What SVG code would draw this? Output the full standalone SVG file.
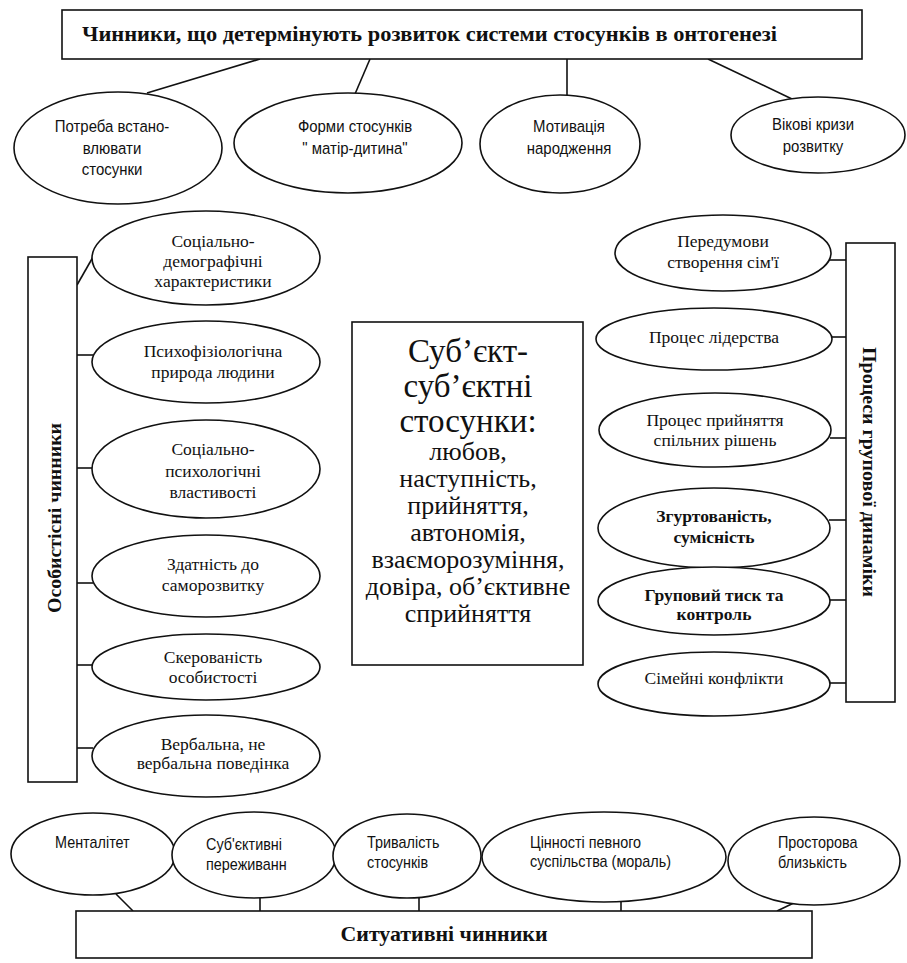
<svg xmlns="http://www.w3.org/2000/svg" width="907" height="963" viewBox="0 0 907 963">
<style>
.shape{fill:#fff;stroke:#111;stroke-width:1.6}
.ln{fill:none;stroke:#111;stroke-width:1.6}
.nar{font-family:"Liberation Sans",sans-serif;font-size:17px;fill:#111;text-anchor:middle}
.nl{font-family:"Liberation Sans",sans-serif;font-size:16px;fill:#111}
.ser{font-family:"Liberation Serif",serif;font-size:17.5px;fill:#111;text-anchor:middle}
.bold{font-family:"Liberation Serif",serif;font-weight:bold;fill:#111}
.big{font-family:"Liberation Serif",serif;font-size:33px;fill:#111;text-anchor:middle}
.mid{font-family:"Liberation Serif",serif;font-size:26px;fill:#111;text-anchor:middle}
</style>
<rect width="907" height="963" fill="#fff"/>
<g id="connectors">
<line class="ln" x1="260" y1="59" x2="147" y2="93"/>
<line class="ln" x1="370" y1="59" x2="355" y2="94"/>
<line class="ln" x1="567" y1="59" x2="567" y2="96"/>
<line class="ln" x1="708" y1="59" x2="792" y2="99"/>
<line class="ln" x1="77" y1="285" x2="93" y2="257"/>
<line class="ln" x1="77" y1="355" x2="93" y2="355"/>
<line class="ln" x1="77" y1="468" x2="93" y2="468"/>
<line class="ln" x1="77" y1="583" x2="93" y2="583"/>
<line class="ln" x1="77" y1="665" x2="93" y2="665"/>
<line class="ln" x1="77" y1="748" x2="93" y2="748"/>
<line class="ln" x1="829" y1="260" x2="846" y2="260"/>
<line class="ln" x1="831" y1="337" x2="846" y2="337"/>
<line class="ln" x1="830" y1="438" x2="846" y2="438"/>
<line class="ln" x1="829" y1="520" x2="846" y2="520"/>
<line class="ln" x1="829" y1="600" x2="846" y2="600"/>
<line class="ln" x1="830" y1="683" x2="846" y2="683"/>
<line class="ln" x1="116" y1="894" x2="133" y2="911"/>
<line class="ln" x1="260" y1="897" x2="260" y2="911"/>
<line class="ln" x1="419" y1="897" x2="419" y2="911"/>
<line class="ln" x1="621" y1="901" x2="621" y2="911"/>
<line class="ln" x1="800" y1="900" x2="777" y2="911"/>
</g>
<g id="title">
<rect class="shape" x="62" y="10" width="800" height="49"/>
<text class="bold" x="82" y="41" font-size="22" textLength="695" lengthAdjust="spacingAndGlyphs">Чинники, що детермінують розвиток системи стосунків в онтогенезі</text>
</g>
<g id="t1">
<ellipse class="shape" cx="118" cy="148" rx="104" ry="56"/>
<g transform="translate(112,0) scale(0.88,1)">
<text class="nar" x="0" y="132">Потреба встано-</text>
<text class="nar" x="0" y="154">влювати</text>
<text class="nar" x="0" y="175">стосунки</text>
</g>
</g>
<g id="t2">
<ellipse class="shape" cx="348" cy="143" rx="114" ry="50"/>
<g transform="translate(355,0) scale(0.88,1)">
<text class="nar" x="0" y="132">Форми стосунків</text>
<text class="nar" x="0" y="154">" матір-дитина"</text>
</g>
</g>
<g id="t3">
<ellipse class="shape" cx="560" cy="144" rx="80" ry="49"/>
<g transform="translate(569,0) scale(0.88,1)">
<text class="nar" x="0" y="132">Мотивація</text>
<text class="nar" x="0" y="154">народження</text>
</g>
</g>
<g id="t4">
<ellipse class="shape" cx="818" cy="135" rx="87" ry="38"/>
<g transform="translate(813,0) scale(0.88,1)">
<text class="nar" x="0" y="130">Вікові кризи</text>
<text class="nar" x="0" y="152">розвитку</text>
</g>
</g>
<g id="left-box">
<rect class="shape" x="28" y="257" width="49" height="525"/>
<text class="bold" font-size="19" text-anchor="middle" transform="translate(61,518) rotate(-90)" textLength="190" lengthAdjust="spacingAndGlyphs">Особистісні чинники</text>
</g>
<g id="l1">
<ellipse class="shape" cx="206" cy="258" rx="114" ry="47"/>
<text class="ser" x="213" y="247">Соціально-</text>
<text class="ser" x="213" y="267">демографічні</text>
<text class="ser" x="213" y="287">характеристики</text>
</g>
<g id="l2">
<ellipse class="shape" cx="206" cy="362" rx="114" ry="41"/>
<text class="ser" x="213" y="357">Психофізіологічна</text>
<text class="ser" x="213" y="378">природа людини</text>
</g>
<g id="l3">
<ellipse class="shape" cx="206" cy="469" rx="114" ry="49"/>
<text class="ser" x="213" y="455">Соціально-</text>
<text class="ser" x="213" y="477">психологічні</text>
<text class="ser" x="213" y="498">властивості</text>
</g>
<g id="l4">
<ellipse class="shape" cx="206" cy="576" rx="114" ry="41"/>
<text class="ser" x="213" y="570">Здатність до</text>
<text class="ser" x="213" y="591">саморозвитку</text>
</g>
<g id="l5">
<ellipse class="shape" cx="206" cy="667" rx="114" ry="33"/>
<text class="ser" x="213" y="663" font-size="16.5">Скерованість</text>
<text class="ser" x="213" y="683" font-size="16.5">особистості</text>
</g>
<g id="l6">
<ellipse class="shape" cx="206" cy="756" rx="114" ry="41"/>
<text class="ser" x="213" y="750">Вербальна, не</text>
<text class="ser" x="213" y="769">вербальна поведінка</text>
</g>
<g id="center">
<rect class="shape" x="352" y="322" width="231" height="343"/>
<text class="big" x="468" y="362">Суб’єкт-</text>
<text class="big" x="468" y="397">суб’єктні</text>
<text class="big" x="468" y="432">стосунки:</text>
<text class="mid" x="468" y="460">любов,</text>
<text class="mid" x="468" y="487">наступність,</text>
<text class="mid" x="468" y="514">прийняття,</text>
<text class="mid" x="468" y="541">автономія,</text>
<text class="mid" x="468" y="568">взаєморозуміння,</text>
<text class="mid" x="468" y="595">довіра, об’єктивне</text>
<text class="mid" x="468" y="622">сприйняття</text>
</g>
<g id="right-box">
<rect class="shape" x="846" y="243" width="49" height="459"/>
<text class="bold" font-size="19" text-anchor="middle" transform="translate(863,472) rotate(90)" textLength="250" lengthAdjust="spacingAndGlyphs">Процеси групової динаміки</text>
</g>
<g id="r1">
<ellipse class="shape" cx="723" cy="253" rx="108" ry="38"/>
<text class="ser" x="723" y="247">Передумови</text>
<text class="ser" x="723" y="268">створення сім'ї</text>
</g>
<g id="r2">
<ellipse class="shape" cx="714" cy="339" rx="118" ry="31"/>
<text class="ser" x="714" y="343">Процес лідерства</text>
</g>
<g id="r3">
<ellipse class="shape" cx="715" cy="430" rx="116" ry="37"/>
<text class="ser" x="715" y="426">Процес прийняття</text>
<text class="ser" x="715" y="446">спільних рішень</text>
</g>
<g id="r4">
<ellipse class="shape" cx="714" cy="528" rx="116" ry="40"/>
<text class="ser" x="714" y="522" font-weight="bold">Згуртованість,</text>
<text class="ser" x="714" y="543" font-weight="bold">сумісність</text>
</g>
<g id="r5">
<ellipse class="shape" cx="714" cy="601" rx="116" ry="34"/>
<text class="ser" x="714" y="601" font-weight="bold" font-size="16">Груповий тиск та</text>
<text class="ser" x="714" y="620" font-weight="bold" font-size="16">контроль</text>
</g>
<g id="r6">
<ellipse class="shape" cx="714" cy="684" rx="116" ry="32"/>
<text class="ser" x="714" y="684">Сімейні конфлікти</text>
</g>
<g id="b1">
<ellipse class="shape" cx="93" cy="854" rx="82" ry="41"/>
<g transform="translate(55,0) scale(0.9,1)">
<text class="nl" x="0" y="848">Менталітет</text>
</g>
</g>
<g id="b2">
<ellipse class="shape" cx="254" cy="855" rx="82" ry="43"/>
<g transform="translate(206,0) scale(0.9,1)">
<text class="nl" x="0" y="850">Суб'єктивні</text>
<text class="nl" x="0" y="870">переживанн</text>
</g>
</g>
<g id="b3">
<ellipse class="shape" cx="407" cy="856" rx="74" ry="42"/>
<g transform="translate(367,0) scale(0.9,1)">
<text class="nl" x="0" y="848">Тривалість</text>
<text class="nl" x="0" y="868">стосунків</text>
</g>
</g>
<g id="b4">
<ellipse class="shape" cx="604" cy="857" rx="122" ry="45"/>
<g transform="translate(530,0) scale(0.9,1)">
<text class="nl" x="0" y="848">Цінності певного</text>
<text class="nl" x="0" y="867">суспільства (мораль)</text>
</g>
</g>
<g id="b5">
<ellipse class="shape" cx="814" cy="861" rx="86" ry="44"/>
<g transform="translate(778,0) scale(0.9,1)">
<text class="nl" x="0" y="848">Просторова</text>
<text class="nl" x="0" y="868">близькість</text>
</g>
</g>
<g id="bottom-box">
<rect class="shape" x="76" y="911" width="736" height="47"/>
<text class="bold" x="444" y="941" font-size="21" text-anchor="middle" textLength="207" lengthAdjust="spacingAndGlyphs">Ситуативні чинники</text>
</g>
</svg>
